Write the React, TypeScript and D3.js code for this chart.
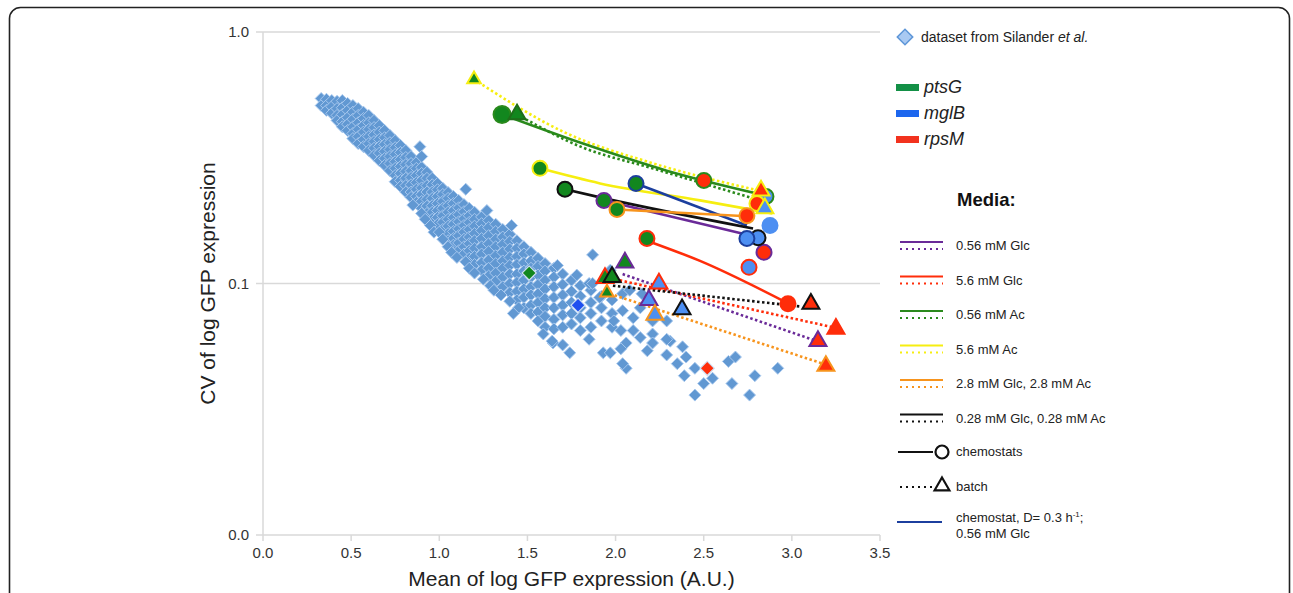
import * as d3 from "d3";

// axes
const xTicks = [0, 0.5, 1, 1.5, 2, 2.5, 3, 3.5];
const yTicks = [0.01, 0.1, 1];

// Silander et al. dataset, dense band: [mean, cv values at that mean]
const silanderBand: [number, number[]][] = [
  [0.33, [0.544, 0.51]],
  [0.36, [0.54, 0.51, 0.488]],
  [0.39, [0.534, 0.505, 0.475]],
  [0.42, [0.53, 0.496, 0.466, 0.445]],
  [0.45, [0.534, 0.5, 0.47, 0.44, 0.42]],
  [0.48, [0.52, 0.488, 0.457, 0.43, 0.406]],
  [0.51, [0.51, 0.48, 0.45, 0.42, 0.395, 0.377]],
  [0.54, [0.496, 0.466, 0.436, 0.41, 0.384, 0.36]],
  [0.57, [0.48, 0.453, 0.425, 0.4, 0.374, 0.35]],
  [0.6, [0.466, 0.436, 0.41, 0.384, 0.36, 0.338]],
  [0.63, [0.445, 0.417, 0.39, 0.367, 0.345, 0.323]],
  [0.66, [0.425, 0.4, 0.374, 0.35, 0.33, 0.308]],
  [0.69, [0.406, 0.38, 0.357, 0.335, 0.314, 0.295]],
  [0.72, [0.388, 0.363, 0.341, 0.32, 0.3, 0.281]],
  [0.75, [0.37, 0.347, 0.326, 0.305, 0.287, 0.269, 0.254]],
  [0.78, [0.354, 0.332, 0.311, 0.292, 0.274, 0.257, 0.243]],
  [0.81, [0.338, 0.317, 0.297, 0.279, 0.262, 0.245, 0.231]],
  [0.84, [0.32, 0.3, 0.281, 0.264, 0.247, 0.231, 0.22]],
  [0.87, [0.303, 0.287, 0.269, 0.252, 0.237, 0.222, 0.21]],
  [0.9, [0.29, 0.274, 0.257, 0.24, 0.226, 0.212, 0.199]],
  [0.93, [0.277, 0.262, 0.245, 0.231, 0.216, 0.203, 0.19]],
  [0.96, [0.262, 0.247, 0.231, 0.218, 0.204, 0.192, 0.18]],
  [0.99, [0.25, 0.236, 0.222, 0.208, 0.195, 0.183, 0.172]],
  [1.02, [0.239, 0.226, 0.212, 0.199, 0.186, 0.175, 0.164]],
  [1.05, [0.23, 0.218, 0.204, 0.192, 0.18, 0.169, 0.158, 0.148]],
  [1.08, [0.222, 0.208, 0.195, 0.183, 0.172, 0.161, 0.151, 0.142]],
  [1.11, [0.214, 0.2, 0.188, 0.176, 0.165, 0.155, 0.145, 0.135]],
  [1.14, [0.206, 0.193, 0.181, 0.17, 0.16, 0.15, 0.14, 0.131]],
  [1.17, [0.199, 0.186, 0.175, 0.164, 0.153, 0.144, 0.135, 0.126]],
  [1.2, [0.192, 0.18, 0.169, 0.158, 0.148, 0.138, 0.128, 0.119]],
  [1.24, [0.184, 0.173, 0.1625, 0.151, 0.14, 0.131, 0.121, 0.113]],
  [1.28, [0.178, 0.167, 0.155, 0.144, 0.134, 0.124, 0.115, 0.107]],
  [1.32, [0.172, 0.161, 0.15, 0.14, 0.129, 0.12, 0.11, 0.102]],
  [1.36, [0.164, 0.153, 0.143, 0.133, 0.123, 0.115, 0.106, 0.097]],
  [1.4, [0.157, 0.147, 0.137, 0.127, 0.118, 0.109, 0.1, 0.092]],
  [1.44, [0.148, 0.138, 0.128, 0.119, 0.109, 0.101, 0.093, 0.086]],
  [1.48, [0.14, 0.131, 0.121, 0.112, 0.103, 0.095, 0.088, 0.08]],
  [1.52, [0.133, 0.123, 0.115, 0.106, 0.097, 0.09, 0.082, 0.076]],
  [1.56, [0.126, 0.117, 0.108, 0.099, 0.091, 0.084, 0.077, 0.071]],
  [1.6, [0.12, 0.112, 0.103, 0.095, 0.087, 0.08, 0.074, 0.067]],
  [1.65, [0.115, 0.106, 0.097, 0.088, 0.08, 0.072, 0.066]],
  [1.7, [0.109, 0.099, 0.09, 0.082, 0.075, 0.067]],
  [1.75, [0.103, 0.093, 0.084, 0.076, 0.069]],
  [1.8, [0.098, 0.089, 0.08, 0.073, 0.065]],
  [1.86, [0.094, 0.084, 0.076, 0.067]],
  [1.92, [0.089, 0.08, 0.071]],
  [1.98, [0.086, 0.076, 0.067]],
];

// Silander et al. dataset, fringe below the band [mean, cv]
const silanderFringe: [number, number][] = [
  [0.85, 0.205], [0.9, 0.19], [0.92, 0.18], [0.95, 0.17], [0.97, 0.16], [1.0, 0.16], [1.02, 0.15], [1.05, 0.14],
  [1.07, 0.133], [1.1, 0.127], [1.15, 0.122], [1.17, 0.115], [1.2, 0.11], [1.25, 0.104], [1.29, 0.098], [1.31, 0.094],
  [1.35, 0.09], [1.4, 0.085], [1.45, 0.08],
];

// Silander et al. dataset, scattered points away from the band [mean, cv]
const silanderScatter: [number, number][] = [
  [0.89, 0.35], [0.9, 0.32], [1.15, 0.237], [1.27, 0.195], [1.41, 0.17], [1.87, 0.13], [1.67, 0.118], [1.78, 0.108],
  [1.85, 0.1], [1.97, 0.113], [1.42, 0.076], [1.645, 0.058],
  [2.1, 0.073], [2.21, 0.063], [2.31, 0.059], [2.38, 0.056], [2.29, 0.052], [2.4, 0.051], [2.45, 0.046], [2.55, 0.042],
  [2.39, 0.043], [2.5, 0.04], [2.45, 0.036], [2.66, 0.04], [2.64, 0.049], [2.68, 0.051], [2.79, 0.043], [2.76, 0.036],
  [2.92, 0.046], [2.06, 0.046], [2.04, 0.048], [1.93, 0.053], [1.97, 0.053], [1.74, 0.053], [1.7, 0.057], [1.64, 0.059],
  [1.59, 0.063], [1.85, 0.06], [2.18, 0.054], [2.21, 0.058], [2.14, 0.061], [2.06, 0.058], [2.03, 0.055], [2.1, 0.065],
  [2.03, 0.065], [1.99, 0.071], [2.04, 0.078], [2.14, 0.08], [2.29, 0.06], [2.21, 0.071], [2.35, 0.048], [2.15, 0.091],
  [2.04, 0.091], [2.08, 0.094], [1.91, 0.088], [1.87, 0.1], [2.29, 0.071],
];

// the three genes inside the Silander dataset
const silanderGenes = [
  { gene: "ptsG", mean: 1.51, cv: 0.11 },
  { gene: "mglB", mean: 1.787, cv: 0.082 },
  { gene: "rpsM", mean: 2.52, cv: 0.046 },
];

// chemostat measurements (circles)
const chemostats = [
  { cond: "glc056", gene: "ptsG", mean: 1.934, cv: 0.214 },
  { cond: "glc056", gene: "rpsM", mean: 2.842, cv: 0.133 },
  { cond: "glc56", gene: "ptsG", mean: 2.178, cv: 0.151 },
  { cond: "glc56", gene: "mglB", mean: 2.757, cv: 0.116 },
  { cond: "glc56", gene: "rpsM", mean: 2.978, cv: 0.083 },
  { cond: "ac056", gene: "ptsG", mean: 1.356, cv: 0.47 },
  { cond: "ac056", gene: "rpsM", mean: 2.501, cv: 0.257 },
  { cond: "ac056", gene: "mglB", mean: 2.853, cv: 0.222 },
  { cond: "ac56", gene: "ptsG", mean: 1.571, cv: 0.287 },
  { cond: "ac56", gene: "rpsM", mean: 2.802, cv: 0.208 },
  { cond: "mix28", gene: "ptsG", mean: 2.008, cv: 0.197 },
  { cond: "mix28", gene: "rpsM", mean: 2.745, cv: 0.186 },
  { cond: "mix028", gene: "ptsG", mean: 1.713, cv: 0.237 },
  { cond: "mix028", gene: "mglB", mean: 2.808, cv: 0.152 },
  { cond: "d03", gene: "ptsG", mean: 2.116, cv: 0.25 },
  { cond: "d03", gene: "mglB", mean: 2.745, cv: 0.151 },
  { cond: "none", gene: "mglB", mean: 2.876, cv: 0.17 },
];

// batch measurements (triangles)
const batches = [
  { cond: "ac56", gene: "ptsG", mean: 1.197, cv: 0.648 },
  { cond: "ac56", gene: "rpsM", mean: 2.825, cv: 0.234 },
  { cond: "ac56", gene: "mglB", mean: 2.847, cv: 0.199 },
  { cond: "ac056", gene: "ptsG", mean: 1.441, cv: 0.47 },
  { cond: "glc056", gene: "ptsG", mean: 2.053, cv: 0.121 },
  { cond: "glc056", gene: "mglB", mean: 2.189, cv: 0.086 },
  { cond: "glc056", gene: "rpsM", mean: 3.148, cv: 0.059 },
  { cond: "glc56", gene: "ptsG", mean: 1.94, cv: 0.105 },
  { cond: "glc56", gene: "mglB", mean: 2.246, cv: 0.1 },
  { cond: "glc56", gene: "rpsM", mean: 3.25, cv: 0.066 },
  { cond: "mix028", gene: "ptsG", mean: 1.98, cv: 0.106 },
  { cond: "mix028", gene: "mglB", mean: 2.377, cv: 0.079 },
  { cond: "mix028", gene: "rpsM", mean: 3.108, cv: 0.083 },
  { cond: "mix28", gene: "ptsG", mean: 1.951, cv: 0.092 },
  { cond: "mix28", gene: "mglB", mean: 2.223, cv: 0.075 },
  { cond: "mix28", gene: "rpsM", mean: 3.193, cv: 0.047 },
];

// trend lines [mean, cv]
const chemostatFits: { cond: string; pts: [number, number][] }[] = [
  { cond: "ac056", pts: [[1.356, 0.47], [1.815, 0.36], [2.29, 0.281], [2.85, 0.224]] },
  { cond: "ac56", pts: [[1.571, 0.287], [1.912, 0.25], [2.479, 0.214], [2.89, 0.19]] },
  { cond: "d03", pts: [[2.116, 0.25], [2.745, 0.17]] },
  { cond: "mix028", pts: [[1.713, 0.237], [1.912, 0.22], [2.78, 0.1655]] },
  { cond: "glc056", pts: [[1.934, 0.214], [2.836, 0.151]] },
  { cond: "mix28", pts: [[2.008, 0.197], [2.745, 0.185]] },
  { cond: "glc56", pts: [[2.178, 0.148], [2.479, 0.123], [2.97, 0.084]] },
];
const batchFits: { cond: string; pts: [number, number][] }[] = [
  { cond: "ac56", pts: [[1.197, 0.648], [1.724, 0.395], [2.195, 0.303], [2.825, 0.233]] },
  { cond: "ac056", pts: [[1.441, 0.47], [1.815, 0.347], [2.195, 0.289], [2.82, 0.214]] },
  { cond: "glc056", pts: [[2.04, 0.109], [3.142, 0.059]] },
  { cond: "glc56", pts: [[1.968, 0.105], [3.233, 0.067]] },
  { cond: "mix028", pts: [[1.985, 0.098], [3.05, 0.081]] },
  { cond: "mix28", pts: [[1.968, 0.091], [3.176, 0.048]] },
];

const geneLegend = [
  { gene: "ptsG", color: "#139046" },
  { gene: "mglB", color: "#1c66ee" },
  { gene: "rpsM", color: "#f2321e" },
];
const mediaLegend = [
  { cond: "glc056", label: "0.56 mM Glc" },
  { cond: "glc56", label: "5.6 mM Glc" },
  { cond: "ac056", label: "0.56 mM Ac" },
  { cond: "ac56", label: "5.6 mM Ac" },
  { cond: "mix28", label: "2.8 mM Glc, 2.8 mM Ac" },
  { cond: "mix028", label: "0.28 mM Glc, 0.28 mM Ac" },
];

const mediaColor: Record<string, string> = {
  glc056: "#6a2a98",
  glc56: "#ff2d0a",
  ac056: "#2a8a1c",
  ac56: "#f6ee10",
  mix28: "#f7941d",
  mix028: "#111111",
  d03: "#1c3f9e",
  none: "#4d8ff2",
};
const geneFill: Record<string, string> = {
  ptsG: "#12871e",
  mglB: "#4d8ff2",
  rpsM: "#ff2d0a",
};

const FONT = "Liberation Sans, Arial, Helvetica, sans-serif";

export default function App() {
  const x = d3.scaleLinear().domain([0, 3.5]).range([263, 880]);
  const y = d3.scaleLog().domain([0.01, 1]).range([535, 32]);
  const fmt = d3.format(".1f");
  const diamond = d3.symbol(d3.symbolSquare, 72)() as string;
  const bigDiamond = d3.symbol(d3.symbolSquare, 100)() as string;
  const tri = d3.symbol(d3.symbolTriangle, 125)() as string;
  const triSmall = d3.symbol(d3.symbolTriangle, 80)() as string;
  const line = d3
    .line<[number, number]>()
    .x((d) => x(d[0]))
    .y((d) => y(d[1]))
    .curve(d3.curveMonotoneX);

  const silander: [number, number][] = [
    ...silanderBand.flatMap(([m, cvs]) => cvs.map((c) => [m, c] as [number, number])),
    ...silanderFringe,
    ...silanderScatter,
  ];

  const legendX = 898;
  const mediaY0 = 242;
  const mediaStep = 34.5;

  return (
    <svg width={1293} height={593} style={{ position: "absolute", left: 0, top: 0, background: "#fff" }} fontFamily={FONT}>
      <rect x={9.5} y={7.5} width={1280} height={640} rx={11} fill="#fff" stroke="#222" strokeWidth={1.6} />

      {/* grid + axes */}
      {[0.1, 1].map((v) => (
        <line key={v} x1={x(0)} x2={x(3.5)} y1={y(v)} y2={y(v)} stroke="#d9d9d9" strokeWidth={1.5} />
      ))}
      <line x1={x(0)} x2={x(0)} y1={y(1)} y2={y(0.01)} stroke="#d9d9d9" strokeWidth={1.5} />
      <line x1={x(0)} x2={x(3.5)} y1={y(0.01)} y2={y(0.01)} stroke="#d9d9d9" strokeWidth={1.5} />
      {yTicks.map((v) => (
        <g key={v}>
          <line x1={x(0) - 7} x2={x(0)} y1={y(v)} y2={y(v)} stroke="#d9d9d9" strokeWidth={1.5} />
          <text x={x(0) - 14} y={y(v) + 5} textAnchor="end" fontSize={15} fill="#333">
            {fmt(v)}
          </text>
        </g>
      ))}
      {xTicks.map((v) => (
        <g key={v}>
          <line x1={x(v)} x2={x(v)} y1={y(0.01)} y2={y(0.01) + 6} stroke="#d9d9d9" strokeWidth={1.5} />
          <text x={x(v)} y={558} textAnchor="middle" fontSize={15} fill="#333">
            {fmt(v)}
          </text>
        </g>
      ))}
      <text x={(x(0) + x(3.5)) / 2} y={586} textAnchor="middle" fontSize={21} fill="#222">
        Mean of log GFP expression (A.U.)
      </text>
      <text transform={`translate(215,${y(0.1)}) rotate(-90)`} textAnchor="middle" fontSize={21} fill="#222">
        CV of log GFP expression
      </text>

      {/* Silander dataset */}
      {silander.map((d, i) => (
        <path
          key={i}
          d={diamond}
          transform={`translate(${x(d[0])},${y(d[1])}) rotate(45)`}
          fill="#6198d2"
          stroke="#a8c8ee"
          strokeWidth={0.9}
        />
      ))}
      {silanderGenes.map((d) => (
        <path
          key={d.gene}
          d={bigDiamond}
          transform={`translate(${x(d.mean)},${y(d.cv)}) rotate(45)`}
          fill={d.gene === "mglB" ? "#1f50f0" : geneFill[d.gene]}
          stroke="#cfe0f4"
          strokeWidth={1.2}
        />
      ))}

      {/* trend lines */}
      {batchFits.map((f) => (
        <path
          key={"b" + f.cond}
          d={line(f.pts) as string}
          fill="none"
          stroke={mediaColor[f.cond]}
          strokeWidth={2.6}
          strokeDasharray="2.5 2.5"
        />
      ))}
      {chemostatFits.map((f) => (
        <path key={"c" + f.cond} d={line(f.pts) as string} fill="none" stroke={mediaColor[f.cond]} strokeWidth={2.6} />
      ))}

      {/* markers */}
      {chemostats.map((d, i) => (
        <circle
          key={"cm" + i}
          cx={x(d.mean)}
          cy={y(d.cv)}
          r={d.cond === "ac056" && d.gene === "ptsG" ? 8.5 : 7.5}
          fill={geneFill[d.gene]}
          stroke={mediaColor[d.cond]}
          strokeWidth={2}
        />
      ))}
      {batches.map((d, i) => (
        <path
          key={"bm" + i}
          d={d.gene === "ptsG" && (d.cond === "ac56" || d.cond === "mix28") ? triSmall : tri}
          transform={`translate(${x(d.mean)},${y(d.cv)})`}
          fill={geneFill[d.gene]}
          stroke={d.cond === "ac056" ? "#1f6e1a" : mediaColor[d.cond]}
          strokeWidth={2}
          strokeLinejoin="miter"
        />
      ))}

      {/* legend */}
      <path d={d3.symbol(d3.symbolSquare, 120)() as string} transform="translate(905,37) rotate(45)" fill="#a9c9f2" stroke="#5d96d8" strokeWidth={1.5} />
      <text x={921} y={42} fontSize={14} fill="#222">
        dataset from Silander <tspan fontStyle="italic">et al.</tspan>
      </text>
      {geneLegend.map((g, i) => (
        <g key={g.gene}>
          <rect x={896} y={84 + i * 26} width={23} height={7} fill={g.color} />
          <text x={924} y={92.5 + i * 26} fontSize={18} fontStyle="italic" fill="#222">
            {g.gene}
          </text>
        </g>
      ))}
      <text x={957} y={206} fontSize={18.5} fontWeight="bold" fill="#111">
        Media:
      </text>
      {mediaLegend.map((m, i) => {
        const yy = mediaY0 + i * mediaStep;
        return (
          <g key={m.cond}>
            <line x1={legendX + 2} x2={legendX + 45} y1={yy} y2={yy} stroke={mediaColor[m.cond]} strokeWidth={2.2} />
            <line
              x1={legendX + 2}
              x2={legendX + 45}
              y1={yy + 7}
              y2={yy + 7}
              stroke={mediaColor[m.cond]}
              strokeWidth={2}
              strokeDasharray="2 4"
            />
            <text x={956} y={yy + 8} fontSize={13} fill="#222">
              {m.label}
            </text>
          </g>
        );
      })}
      <line x1={898} x2={933} y1={452} y2={452} stroke="#111" strokeWidth={2} />
      <circle cx={942} cy={452} r={6.5} fill="#fff" stroke="#111" strokeWidth={2.2} />
      <text x={956} y={456} fontSize={13} fill="#222">
        chemostats
      </text>
      <line x1={900} x2={932} y1={487} y2={487} stroke="#111" strokeWidth={2} strokeDasharray="2 4" />
      <path d={d3.symbol(d3.symbolTriangle, 95)() as string} transform="translate(942,486)" fill="#fff" stroke="#111" strokeWidth={2.2} />
      <text x={956} y={491} fontSize={13} fill="#222">
        batch
      </text>
      <line x1={897} x2={942} y1={522} y2={522} stroke={mediaColor.d03} strokeWidth={2.2} />
      <text x={956} y={522} fontSize={13} fill="#222">
        chemostat, D= 0.3 h
        <tspan fontSize={8} dy={-5}>
          -1
        </tspan>
        <tspan dy={5}>;</tspan>
      </text>
      <text x={956} y={538} fontSize={13} fill="#222">
        0.56 mM Glc
      </text>
    </svg>
  );
}
